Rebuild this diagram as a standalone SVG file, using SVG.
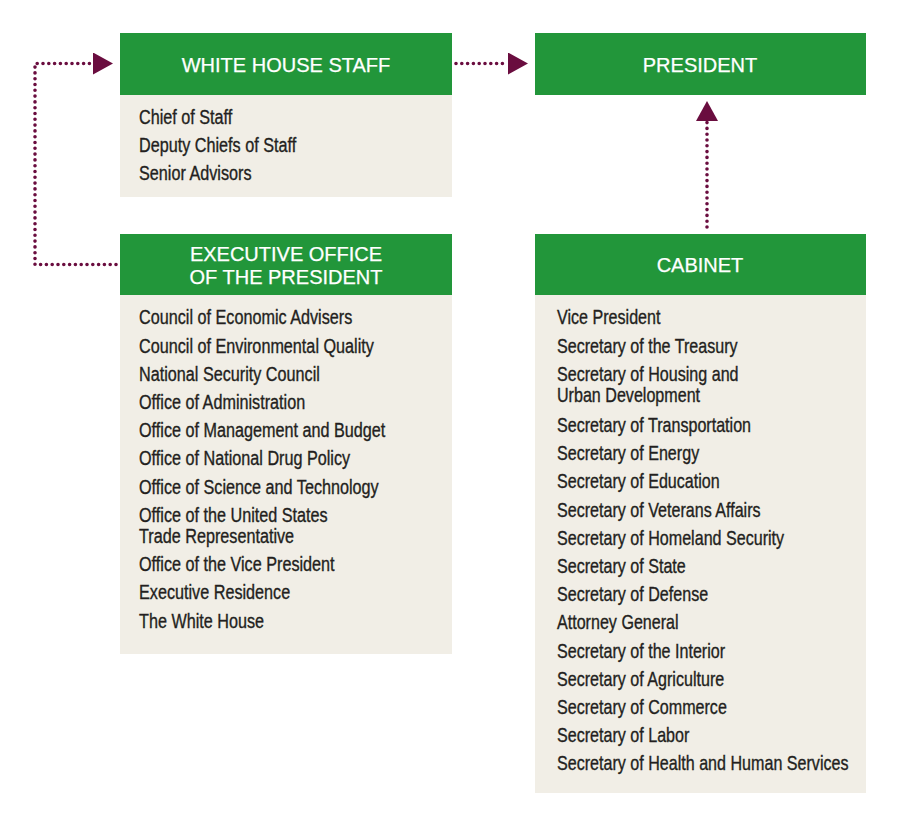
<svg xmlns="http://www.w3.org/2000/svg" width="900" height="826" viewBox="0 0 900 826">
<style>
.hd{fill:#22963a}
.bd{fill:#f1eee6}
.ht{font-family:"Liberation Sans",Arial,sans-serif;font-size:20px;fill:#ffffff;text-anchor:middle;stroke:#ffffff;stroke-width:0.25}
.bt{font-family:"Liberation Sans",Arial,sans-serif;font-size:20px;fill:#231f20;stroke:#231f20;stroke-width:0.35}
.con{fill:none;stroke:#6a0d3f;stroke-width:3.6;stroke-linecap:round;stroke-dasharray:0 5.8}
</style>
<defs>
<marker id="ah" viewBox="0 -11 20 22" markerWidth="20" markerHeight="22" refX="0" refY="0" orient="auto" markerUnits="userSpaceOnUse">
<path d="M0,-11 L20,0 L0,11 Z" fill="#6a0d3f" stroke="none"/>
</marker>
</defs>
<rect width="900" height="826" fill="#ffffff"/>

<g id="white-house-staff">
<rect class="hd" x="120" y="33" width="332" height="62"/>
<rect class="bd" x="120" y="95" width="332" height="102"/>
<text class="ht" x="286" y="72">WHITE HOUSE STAFF</text>
<g class="bt" transform="translate(139,0) scale(0.81,1)">
<text x="0" y="124.5">Chief of Staff</text>
<text x="0" y="152.5">Deputy Chiefs of Staff</text>
<text x="0" y="180.5">Senior Advisors</text>
</g>
</g>

<g id="president">
<rect class="hd" x="535" y="33" width="331" height="62"/>
<text class="ht" x="700" y="72">PRESIDENT</text>
</g>

<g id="executive-office">
<rect class="hd" x="120" y="234" width="332" height="61"/>
<rect class="bd" x="120" y="295" width="332" height="359"/>
<text class="ht" x="286" y="261">EXECUTIVE OFFICE</text>
<text class="ht" x="286" y="284">OF THE PRESIDENT</text>
<g class="bt" transform="translate(139,0) scale(0.81,1)">
<text x="0" y="324.5">Council of Economic Advisers</text>
<text x="0" y="352.7">Council of Environmental Quality</text>
<text x="0" y="380.9">National Security Council</text>
<text x="0" y="409.1">Office of Administration</text>
<text x="0" y="437.3">Office of Management and Budget</text>
<text x="0" y="465.5">Office of National Drug Policy</text>
<text x="0" y="493.7">Office of Science and Technology</text>
<text x="0" y="521.9">Office of the United States</text>
<text x="0" y="543">Trade Representative</text>
<text x="0" y="571.2">Office of the Vice President</text>
<text x="0" y="599.4">Executive Residence</text>
<text x="0" y="627.6">The White House</text>
</g>
</g>

<g id="cabinet">
<rect class="hd" x="535" y="234" width="331" height="61"/>
<rect class="bd" x="535" y="295" width="331" height="498"/>
<text class="ht" x="700" y="272">CABINET</text>
<g class="bt" transform="translate(557,0) scale(0.805,1)">
<text x="0" y="324.5">Vice President</text>
<text x="0" y="352.7">Secretary of the Treasury</text>
<text x="0" y="380.9">Secretary of Housing and</text>
<text x="0" y="402.5">Urban Development</text>
<text x="0" y="432">Secretary of Transportation</text>
<text x="0" y="460.2">Secretary of Energy</text>
<text x="0" y="488.4">Secretary of Education</text>
<text x="0" y="516.6">Secretary of Veterans Affairs</text>
<text x="0" y="544.8">Secretary of Homeland Security</text>
<text x="0" y="573">Secretary of State</text>
<text x="0" y="601.2">Secretary of Defense</text>
<text x="0" y="629.4">Attorney General</text>
<text x="0" y="657.6">Secretary of the Interior</text>
<text x="0" y="685.8">Secretary of Agriculture</text>
<text x="0" y="714">Secretary of Commerce</text>
<text x="0" y="742.2">Secretary of Labor</text>
<text x="0" y="770.4">Secretary of Health and Human Services</text>
</g>
</g>

<g id="connectors">
<path class="con" d="M116,264.5 H35 V63.5 H93" marker-end="url(#ah)"/>
<path class="con" d="M456,63.5 H508" marker-end="url(#ah)"/>
<path class="con" d="M707,227 V121" marker-end="url(#ah)"/>
</g>
</svg>
